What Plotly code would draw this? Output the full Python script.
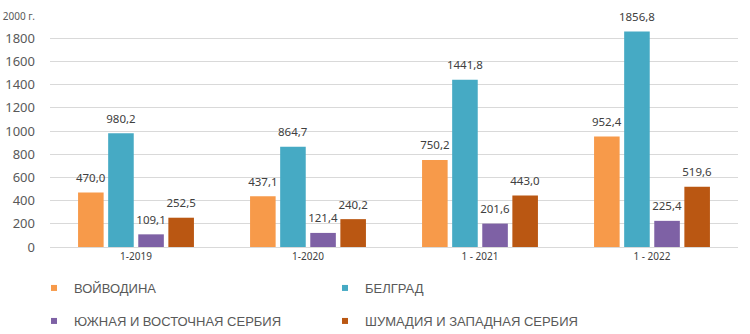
import plotly.graph_objects as go

categories = ["1-2019", "1-2020", "1 - 2021", "1 - 2022"]
series_names = ["ВОЙВОДИНА", "БЕЛГРАД", "ЮЖНАЯ И ВОСТОЧНАЯ СЕРБИЯ", "ШУМАДИЯ И ЗАПАДНАЯ СЕРБИЯ"]
vojvodina = [470.0, 437.1, 750.2, 952.4]
beograd = [980.2, 864.7, 1441.8, 1856.8]
south_east = [109.1, 121.4, 201.6, 225.4]
sumadija_west = [252.5, 240.2, 443.0, 519.6]
y_tick_vals = [0, 200, 400, 600, 800, 1000, 1200, 1400, 1600, 1800, 2000]
y_tick_text = ["0", "200", "400", "600", "800", "1000", "1200", "1400", "1600", "1800",
               "<span style='font-size:10px'>2000 г.</span>"]

colors = ["#F79A4A", "#46AAC4", "#7E61A5", "#BA5712"]
legends = ["legend", "legend", "legend2", "legend2"]

fig = go.Figure()
for name, vals, col in zip(series_names, [vojvodina, beograd, south_east, sumadija_west], colors):
    fig.add_trace(go.Bar(
        x=categories, y=vals, name=name, marker=dict(color=col, line=dict(width=0)),
        texttemplate="<span style='font-size:11.5px'>%{y:.1f}</span><br> ",
        textposition="outside", cliponaxis=False, constraintext="none",
        textfont=dict(family="Noto Sans", size=5, color="#404040"),
        showlegend=False,
    ))

# legend proxies with small square markers
for name, col, lg in zip(series_names, colors, legends):
    fig.add_trace(go.Scatter(
        x=[None], y=[None], mode="markers", name=name,
        marker=dict(symbol="square", size=6, color=col),
        legend=lg, showlegend=True, hoverinfo="skip",
    ))

legend_common = dict(
    orientation="h", xanchor="left", yanchor="middle", xref="container", yref="container",
    font=dict(family="Liberation Sans", size=13, color="#595959"),
    entrywidth=246, entrywidthmode="pixels", itemwidth=30,
    bgcolor="rgba(0,0,0,0)",
)

fig.update_layout(
    width=750, height=334,
    margin=dict(l=50, r=12, t=15, b=87, autoexpand=False),
    paper_bgcolor="white", plot_bgcolor="white",
    separators=", ",
    barmode="group", bargap=0.3, bargroupgap=0.15,
    showlegend=True,
    legend=dict(x=34 / 750, y=1 - 288 / 334, **legend_common),
    legend2=dict(x=34 / 750, y=1 - 321 / 334, **legend_common),
    xaxis=dict(
        showgrid=False, showline=True, linecolor="#D9D9D9", linewidth=1,
        tickfont=dict(family="Noto Sans", size=10, color="#404040"),
        ticks="", automargin=False,
    ),
    yaxis=dict(
        range=[0, 2000], tickvals=y_tick_vals, ticktext=y_tick_text,
        showgrid=True, gridcolor="#D9D9D9", gridwidth=1, zeroline=False,
        tickfont=dict(family="Noto Sans", size=13, color="#595959"),
        ticklabelstandoff=14, automargin=False,
    ),
)

fig.write_html("out.html")
